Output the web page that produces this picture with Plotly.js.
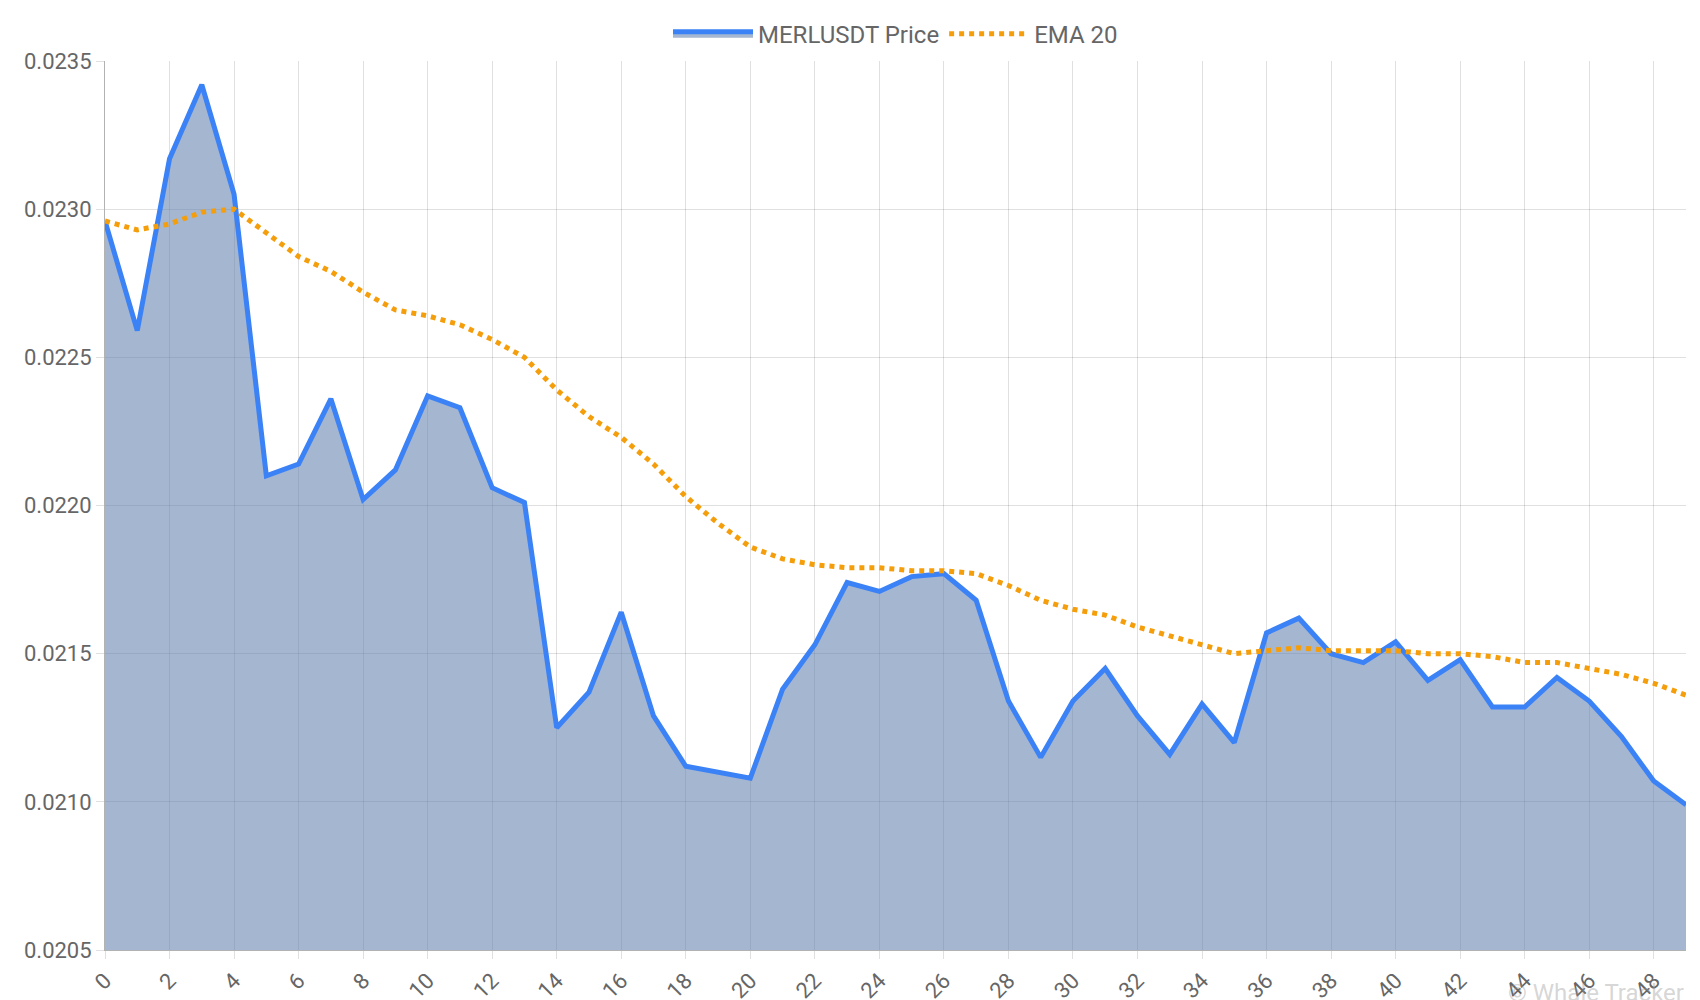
<!DOCTYPE html>
<html><head><script src="https://cdn.plot.ly/plotly-3.0.1.min.js"></script>
<style>body{margin:0}#c{width:1700px;height:1000px}</style></head>
<body><div id="c"></div><script>
const idx = Array.from({length:50},(_,i)=>i);
const price = [0.02296,0.02259,0.02317,0.02342,0.02305,0.02210,0.02214,0.02236,0.02202,0.02212,0.02237,0.02233,0.02206,0.02201,0.02125,0.02137,0.02164,0.02129,0.02112,0.02110,0.02108,0.02138,0.02153,0.02174,0.02171,0.02176,0.02177,0.02168,0.02134,0.02115,0.02134,0.02145,0.02129,0.02116,0.02133,0.02120,0.02157,0.02162,0.02150,0.02147,0.02154,0.02141,0.02148,0.02132,0.02132,0.02142,0.02134,0.02122,0.02107,0.02099];
const ema = [0.02296,0.02293,0.02295,0.02299,0.02300,0.02292,0.02284,0.02279,0.02272,0.02266,0.02264,0.02261,0.02256,0.02250,0.02239,0.02230,0.02223,0.02214,0.02203,0.02194,0.02186,0.02182,0.02180,0.02179,0.02179,0.02178,0.02178,0.02177,0.02173,0.02168,0.02165,0.02163,0.02159,0.02156,0.02153,0.02150,0.02151,0.02152,0.02151,0.02151,0.02151,0.02150,0.02150,0.02149,0.02147,0.02147,0.02145,0.02143,0.02140,0.02136];
const data = [
 {x:idx,y:price,name:'MERLUSDT Price',type:'scatter',mode:'lines',fill:'tozeroy',fillcolor:'rgba(100,130,175,0.58)',line:{color:'#3b82f6',width:5}},
 {x:idx,y:ema,name:'EMA 20',type:'scatter',mode:'lines',line:{color:'#f59e0b',width:5,dash:'dot'}}
];
const layout = {
 width:1700,height:1000,paper_bgcolor:'#fff',plot_bgcolor:'#fff',
 margin:{l:105,r:14,t:55,b:50},
 font:{family:'Roboto, Arial, sans-serif',size:22,color:'#666'},
 showlegend:true,
 legend:{orientation:'h',x:0.5,xanchor:'center',y:1.005,yanchor:'bottom',font:{size:24,color:'#666'},itemwidth:80},
 xaxis:{range:[0,49],tickmode:'array',tickvals:idx.filter(i=>i%2==0),ticktext:idx.filter(i=>i%2==0).map(String),tickangle:-45,showgrid:true,gridcolor:'rgba(0,0,0,0.12)',zeroline:false,showline:true,linecolor:'rgba(0,0,0,0.3)',ticks:'outside',ticklen:8,tickcolor:'rgba(0,0,0,0.12)'},
 yaxis:{range:[0.0205,0.0235],dtick:0.0005,tickformat:'.4f',showgrid:true,gridcolor:'rgba(0,0,0,0.12)',zeroline:false,showline:true,linecolor:'rgba(0,0,0,0.3)',ticks:'outside',ticklen:8,tickcolor:'rgba(0,0,0,0.12)'},
 annotations:[{text:'© Whale Tracker',xref:'paper',yref:'paper',x:1,y:-0.03,xanchor:'right',yanchor:'top',showarrow:false,font:{size:24,color:'rgba(150,150,150,0.4)'}}]
};
Plotly.newPlot('c',data,layout,{displayModeBar:false});
</script></body></html>
